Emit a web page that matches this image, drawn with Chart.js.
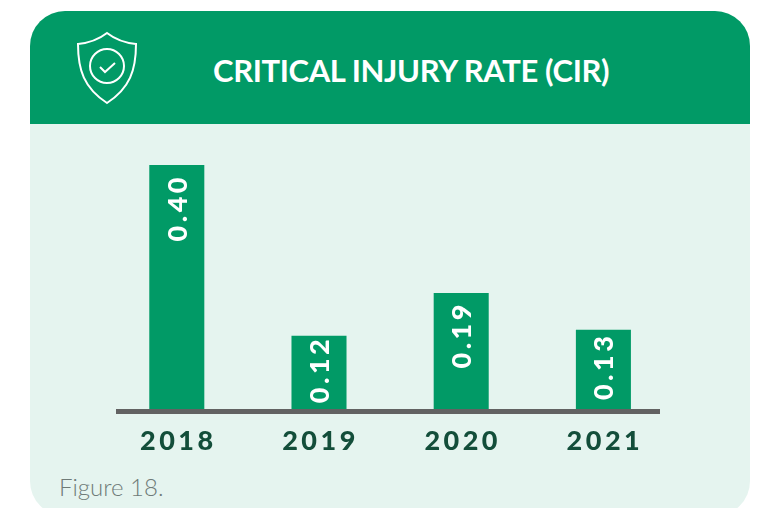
<!DOCTYPE html>
<html>
<head>
<meta charset="utf-8">
<title>Critical Injury Rate (CIR)</title>
<script src="https://cdn.jsdelivr.net/npm/chart.js@4"></script>
<style>
    html, body { margin: 0; padding: 0; background: #fff; overflow: hidden; }
    body { width: 765px; height: 508px; position: relative; font-family: 'Lato', sans-serif; }
    .card { position: absolute; left: 30px; top: 11px; width: 720px; height: 505px; background: #e5f4ef; border-radius: 35px; overflow: hidden; }
    .card-head { position: absolute; left: 0; top: 0; width: 100%; height: 113px; background: #019a66; }
    .card-title { position: absolute; left: 183px; top: 39px; color: #fff; font-size: 31px; font-weight: 700; line-height: 40px; white-space: nowrap; letter-spacing: -0.38px; }
    .shield { position: absolute; left: 0; top: 0; }
    .caption { position: absolute; left: 59px; top: 472px; color: #6f7b78; font-size: 24px; font-weight: 300; line-height: 30px; }
    canvas { position: absolute; left: 0; top: 0; }
</style>
</head>
<body>
<div class="card">
    <div class="card-head">
        <div class="card-title">CRITICAL INJURY RATE (CIR)</div>
    </div>
</div>
<svg class="shield" width="765" height="124" fill="none" stroke="#fff" stroke-width="2">
    <path d="M107 33 C98 40 88 43 78 44 C78 70 84 88 107 103 C130 88 136 70 136 44 C126 43 116 40 107 33 Z"/>
    <circle cx="107" cy="66" r="17"/>
    <path d="M100 67 L105 72 L115 63"/>
</svg>
<div class="caption">Figure 18.</div>
<canvas id="cirChart" width="765" height="508"></canvas>

<script>
const years = ['2018', '2019', '2020', '2021'];
const cirValues = [0.40, 0.12, 0.19, 0.13];
const valueLabels = ['0.40', '0.12', '0.19', '0.13'];

const GREEN = '#019a66';
const DARK_GREEN = '#134e3a';
const AXIS_GREY = '#626262';

// tick labels are spaced out in the original
const tickSpacing = {
    id: 'tickSpacing',
    beforeDraw(chart) {
        chart.ctx.letterSpacing = '3.5px';
    }
};

// the baseline is shorter than the plot area, so no axis border here
const baseline = {
    id: 'baseline',
    afterDatasetsDraw(chart) {
        const { ctx, scales } = chart;
        const y = scales.y.getPixelForValue(0);
        ctx.save();
        ctx.fillStyle = AXIS_GREY;
        ctx.fillRect(116, y, 544, 5);
        ctx.restore();
    }
};

// gap under the bar top differs per label in the original
const labelGaps = [9, 0, 8, 3];

const barLabels = {
    id: 'barLabels',
    afterDatasetsDraw(chart) {
        const { ctx } = chart;
        chart.getDatasetMeta(0).data.forEach((bar, i) => {
            ctx.save();
            ctx.translate(bar.x, bar.y + labelGaps[i]);
            ctx.rotate(-Math.PI / 2);
            ctx.font = "900 27px 'Lato', sans-serif";
            ctx.letterSpacing = '3.5px';
            ctx.fillStyle = '#fff';
            ctx.textAlign = 'right';
            ctx.textBaseline = 'middle';
            ctx.fillText(valueLabels[i], 0, 1);
            ctx.restore();
        });
    }
};

new Chart(document.getElementById('cirChart'), {
    type: 'bar',
    data: {
        labels: years,
        datasets: [{
            label: 'CIR',
            data: cirValues,
            backgroundColor: GREEN,
            barPercentage: 0.387,
            categoryPercentage: 1
        }]
    },
    options: {
        responsive: false,
        animation: false,
        layout: { padding: { left: 105.7, right: 90.5, top: 165, bottom: 0 } },
        plugins: { legend: { display: false }, tooltip: { enabled: false } },
        scales: {
            y: { display: false, min: 0, max: 0.4 },
            x: {
                afterFit(scale) { scale.height = 99; },
                grid: { display: false },
                border: { display: false },
                ticks: {
                    color: DARK_GREEN,
                    padding: 8,
                    labelOffset: 1.5,
                    maxRotation: 0,
                    font: { family: "'Lato', sans-serif", size: 27, weight: '900' }
                }
            }
        }
    },
    plugins: [tickSpacing, baseline, barLabels]
});
</script>
</body>
</html>
